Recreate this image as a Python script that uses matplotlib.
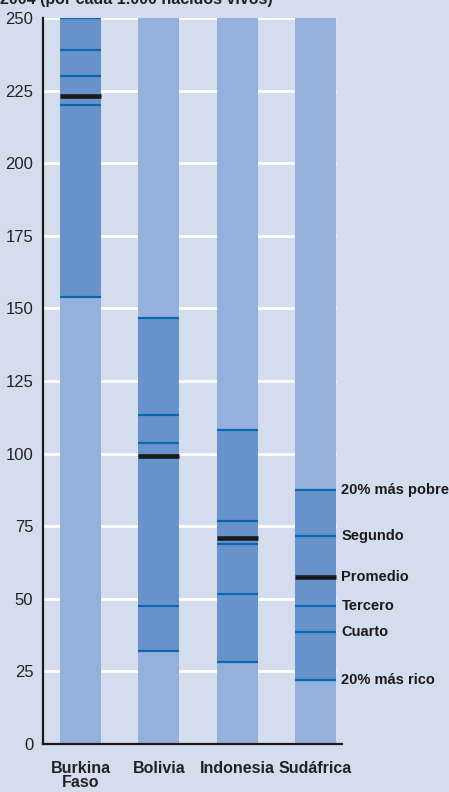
import matplotlib
matplotlib.use("Agg")
import matplotlib.pyplot as plt
from matplotlib import font_manager

# ------------------------
# Data: mortalidad de menores de 5 años por quintil de riqueza
# ------------------------
countries = ["Burkina\nFaso", "Bolivia", "Indonesia", "Sudáfrica"]
quintil_1 = [250, 146.7, 108.1, 87.6]   # 20% más pobre
quintil_2 = [239, 113.3, 76.7, 71.5]    # Segundo
quintil_3 = [230, 103.5, 68.8, 47.6]    # Tercero
quintil_4 = [220, 47.4, 51.8, 38.5]     # Cuarto
quintil_5 = [154, 32.0, 28.2, 21.9]     # 20% más rico
promedio = [223, 99.2, 70.8, 57.5]
y_max = 250
y_ticks = [0, 25, 50, 75, 100, 125, 150, 175, 200, 225, 250]
labels_right = ["20% más pobre", "Segundo", "Promedio", "Tercero", "Cuarto", "20% más rico"]

# fuente condensada si existe
names = {f.name for f in font_manager.fontManager.ttflist}
font = "Liberation Sans Narrow" if "Liberation Sans Narrow" in names else "Liberation Sans"
plt.rcParams["font.family"] = [font, "DejaVu Sans"]

BG = "#d4ddee"
LIGHT = "#95b1db"
DARK = "#6793ca"
LINE = "#0a66b0"

fig = plt.figure(figsize=(4.49, 7.92), dpi=100, facecolor=BG)
ax = fig.add_axes([43 / 449, 48 / 792, (342 - 43) / 449, 726 / 792])
ax.set_facecolor(BG)

x = list(range(len(countries)))
w = 0.525

# grid lines (white), only up to the last bar
for t in y_ticks[1:]:
    ax.hlines(t, -0.5, x[-1] + w / 2, color="white", lw=2, zorder=1)

ax.bar(x, [y_max] * len(x), width=w, color=LIGHT, zorder=2)
tops = [max(v) for v in zip(quintil_1, quintil_2, quintil_3, quintil_4, quintil_5)]
bots = [min(v) for v in zip(quintil_1, quintil_2, quintil_3, quintil_4, quintil_5)]
ax.bar(x, [t - b for t, b in zip(tops, bots)], bottom=bots, width=w, color=DARK, zorder=3)

for q in [quintil_1, quintil_2, quintil_3, quintil_4, quintil_5]:
    ax.hlines(q, [i - w / 2 for i in x], [i + w / 2 for i in x], color=LINE, lw=1.6, zorder=4)
ax.hlines(promedio, [i - w / 2 for i in x], [i + w / 2 for i in x], color="#1a1a1a", lw=3.3, zorder=5)

# etiquetas a la derecha de Sudáfrica
last = len(x) - 1
vals = [quintil_1[last], quintil_2[last], promedio[last], quintil_3[last], quintil_4[last], quintil_5[last]]
for lab, v in zip(labels_right, vals):
    ax.annotate(lab, (x[last] + w / 2, v), xytext=(4, 0), textcoords="offset points",
                va="center", ha="left", fontsize=10.5, fontweight="bold", color="#1a1a1a",
                annotation_clip=False)

ax.set_xlim(-0.48, 3.34)
ax.set_ylim(0, y_max)
ax.set_yticks(y_ticks)
ax.set_yticklabels([str(t) for t in y_ticks], fontsize=12, color="#222222")
ax.set_xticks(x)
ax.set_xticklabels(countries, fontsize=11.5, fontweight="bold", color="#222222", linespacing=0.95)
ax.tick_params(axis="both", length=0)
ax.tick_params(axis="y", pad=7)
ax.tick_params(axis="x", pad=12)
for s in ["top", "right"]:
    ax.spines[s].set_visible(False)
for s in ["left", "bottom"]:
    ax.spines[s].set_linewidth(1.6)
    ax.spines[s].set_color("#1a1a1a")

# título recortado arriba
fig.text(0.0, 1 - 4 / 792, "2004 (por cada 1.000 nacidos vivos)", fontsize=11.5,
         fontweight="bold", color="#222222", ha="left", va="baseline")

fig.savefig("out.png", dpi=100, facecolor=BG)
